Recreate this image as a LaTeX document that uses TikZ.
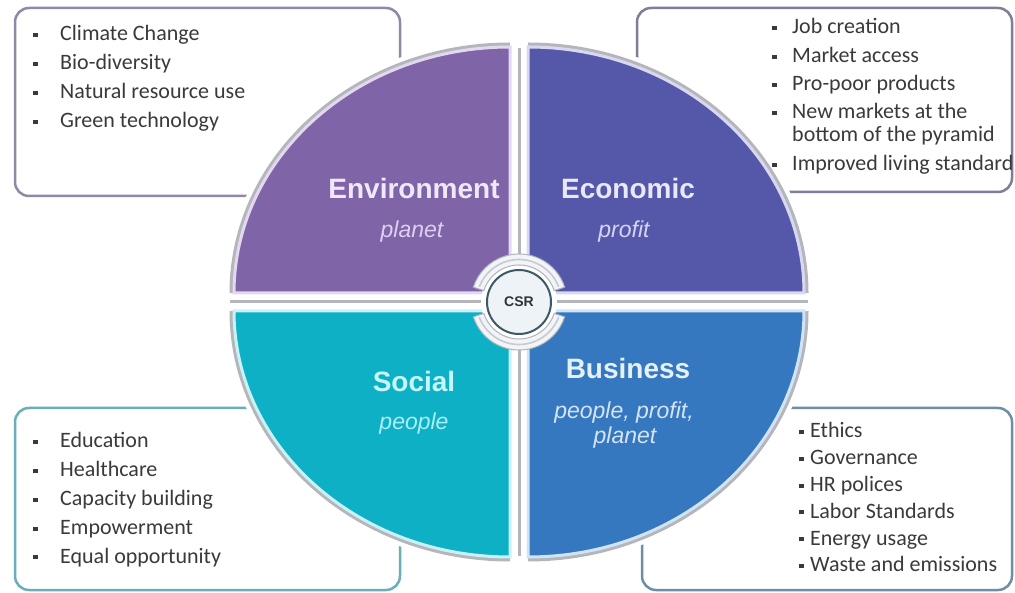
\documentclass[tikz,border=0pt]{standalone}
\usepackage{fontspec}
\setmainfont{Liberation Sans}
\newfontfamily\listfont{Carlito}
\usetikzlibrary{calc}

% quadrant colours
\definecolor{envfill}{HTML}{8064A8}
\definecolor{ecofill}{HTML}{5558A8}
\definecolor{socfill}{HTML}{0EB0C6}
\definecolor{busfill}{HTML}{3578C0}
\definecolor{envrim}{HTML}{E2D8F0}
\definecolor{ecorim}{HTML}{D8D8F0}
\definecolor{socrim}{HTML}{C8F2F6}
\definecolor{busrim}{HTML}{D0E4F6}
\definecolor{envtitle}{HTML}{F0E8FA}
\definecolor{ecotitle}{HTML}{E8E8FA}
\definecolor{soctitle}{HTML}{C4F6FA}
\definecolor{bustitle}{HTML}{E6F0FA}
\definecolor{envsub}{HTML}{DCD0F0}
\definecolor{ecosub}{HTML}{D4D4F2}
\definecolor{socsub}{HTML}{A8EEF4}
\definecolor{bussub}{HTML}{D4E4F6}
\definecolor{rimgray}{HTML}{B4B6BC}
% list boxes
\definecolor{tlbox}{HTML}{8F89A6}
\definecolor{trbox}{HTML}{7E7E96}
\definecolor{blbox}{HTML}{6AAEB8}
\definecolor{brbox}{HTML}{6E8EA6}
\definecolor{itemtext}{HTML}{3A3A3A}
% CSR hub
\definecolor{ringfill}{HTML}{F2F4F7}
\definecolor{ringedge}{HTML}{AEB4BC}
\definecolor{ringmid}{HTML}{C6CBD2}
\definecolor{csrfill}{HTML}{EEF3F7}
\definecolor{csrring}{HTML}{3E5866}
\definecolor{csrtext}{HTML}{303438}

\newcommand\sqbul{\rule[0.16em]{0.21em}{0.21em}}

\begin{document}
\begin{tikzpicture}[x=1pt,y=1pt,
  listbox/.style={rounded corners=14pt, line width=2.5pt, fill=white},
  item/.style={anchor=base west, inner sep=0pt, text=itemtext,
    font=\listfont\fontsize{22}{26}\selectfont},
  title/.style={anchor=base, inner sep=0pt, font=\bfseries\fontsize{28}{30}\selectfont},
  sub/.style={anchor=base, inner sep=0pt, font=\itshape\fontsize{23}{26}\selectfont},
  halo/.style={white, line width=18pt},
  rim/.style={rimgray, line width=9pt},
]
\useasboundingbox (0,0) rectangle (1015,592);
\fill[white] (0,0) rectangle (1015,592);

% ---- list boxes (behind the wheel)
\draw[listbox, draw=tlbox] (15,396) rectangle (400,584);
\draw[listbox, draw=trbox] (637,400) rectangle (1012,584);
\draw[listbox, draw=blbox] (15,2) rectangle (400,184);
\draw[listbox, draw=brbox] (642,2) rectangle (1012,184);

% ---- wheel: white halo and grey rim
\foreach \st in {halo, rim}{
  \draw[\st] (234,299) arc[start angle=180,end angle=90,x radius=276,y radius=246];
  \draw[\st] (804,299) arc[start angle=0,end angle=90,x radius=276,y radius=246];
  \draw[\st] (234,281) arc[start angle=180,end angle=270,x radius=276,y radius=246];
  \draw[\st] (804,281) arc[start angle=0,end angle=-90,x radius=276,y radius=246];
}
% grey cross between the quadrants
\draw[rimgray, line width=3pt] (230,290) -- (808,290);
\draw[rimgray, line width=3pt] (519,36) -- (519,544);

% ---- quadrants
\filldraw[fill=envfill, draw=envrim, line width=3pt]
  (510,299) -- (234,299) arc[start angle=180,end angle=90,x radius=276,y radius=246] -- cycle;
\filldraw[fill=ecofill, draw=ecorim, line width=3pt]
  (528,299) -- (804,299) arc[start angle=0,end angle=90,x radius=276,y radius=246] -- cycle;
\filldraw[fill=socfill, draw=socrim, line width=3pt]
  (510,281) -- (234,281) arc[start angle=180,end angle=270,x radius=276,y radius=246] -- cycle;
\filldraw[fill=busfill, draw=busrim, line width=3pt]
  (528,281) -- (804,281) arc[start angle=0,end angle=-90,x radius=276,y radius=246] -- cycle;

% ---- quadrant labels
\node[title, text=envtitle] (env) at (414,393) {Environment};
\node[sub, text=envsub] (envsub) at (412,354) {planet};
\node[title, text=ecotitle] (eco) at (628,393) {Economic};
\node[sub, text=ecosub] (ecosub) at (624,354) {profit};
\node[title, text=soctitle] (soc) at (414,200) {Social};
\node[sub, text=socsub] (socsub) at (414,162) {people};
\node[title, text=bustitle] (bus) at (628,213) {Business};
\node[sub, text=bussub] (bussubA) at (624,173) {people, profit,};
\node[sub, text=bussub] (bussubB) at (625,148) {planet};

% ---- CSR hub with its two circling bands
\coordinate (O) at (519,290);
\fill[white] (O) circle (38);
\filldraw[fill=ringfill, draw=ringedge, line width=1pt]
  ($(O)+(18:48)$) arc[start angle=18,end angle=162,radius=48]
  -- ($(O)+(162:37)$) arc[start angle=162,end angle=18,radius=37] -- cycle;
\draw[ringmid, line width=1.6pt] ($(O)+(21:42.5)$) arc[start angle=21,end angle=159,radius=42.5];
\filldraw[fill=ringfill, draw=ringedge, line width=1pt]
  ($(O)+(198:48)$) arc[start angle=198,end angle=342,radius=48]
  -- ($(O)+(342:37)$) arc[start angle=342,end angle=198,radius=37] -- cycle;
\draw[ringmid, line width=1.6pt] ($(O)+(201:42.5)$) arc[start angle=201,end angle=339,radius=42.5];
\node[circle, minimum size=64pt, inner sep=0pt, fill=csrfill, draw=csrring, line width=2pt,
  text=csrtext, font=\bfseries\fontsize{14}{16}\selectfont] (csr) at (O) {CSR};

% ---- environment list
\foreach \y/\t [count=\i] in {551/Climate Change, 522/Bio-diversity,
    493/Natural resource use, 464/Green technology}
  \node[item] (tl\i) at (33,\y) {\makebox[27pt][l]{\sqbul}\t};

% ---- economic list
\foreach \y/\t [count=\i] in {558/Job creation, 529/Market access,
    501/Pro-poor products, 473/New markets at the}
  \node[item] (tr\i) at (772,\y) {\makebox[20pt][l]{\sqbul}\t};
\node[item] (tr5) at (792,450) {bottom of the pyramid};
\node[item] (tr6) at (772,421) {\makebox[20pt][l]{\sqbul}Improved living standard};

% ---- social list
\foreach \y/\t [count=\i] in {144/Education, 115/Healthcare, 86/Capacity building,
    57/Empowerment, 29/Equal opportunity}
  \node[item] (bl\i) at (33,\y) {\makebox[27pt][l]{\sqbul}\t};

% ---- business list
\foreach \y/\t [count=\i] in {154/Ethics, 127/Governance, 100/HR polices,
    74/Labor Standards, 47/Energy usage, 20/Waste and emissions}
  \node[item] (br\i) at (799,\y) {\makebox[11pt][l]{\sqbul}\t};
\end{tikzpicture}
\end{document}
